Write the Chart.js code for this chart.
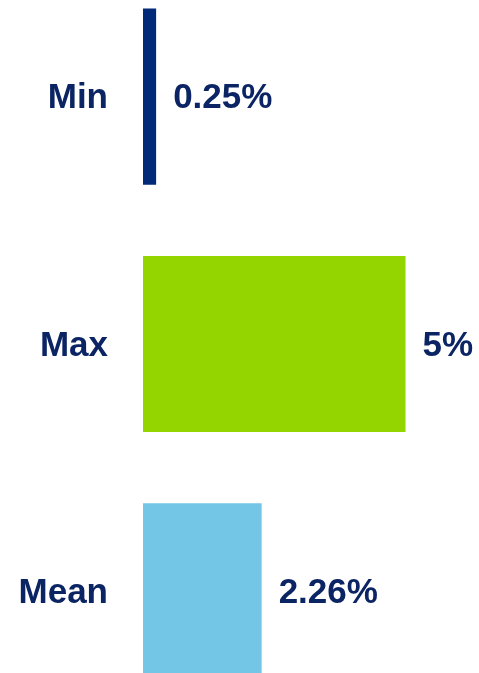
<!DOCTYPE html>
<html>
<head>
<meta charset="utf-8">
<script src="https://cdn.jsdelivr.net/npm/chart.js@4"></script>
<style>
html,body{margin:0;padding:0;background:#fff;overflow:hidden;width:479px;height:673px;}
#wrap{position:absolute;left:0;top:-27px;width:479px;height:742px;}
</style>
</head>
<body>
<div id="wrap"><canvas id="c"></canvas></div>
<script>
const categories = ["Min", "Max", "Mean"];
const values = [0.25, 5, 2.26];
const barColors = ["#012a78", "#94d500", "#73c6e6"];
const textColor = "#0b2463";
const fontFamily = "'Liberation Sans', Arial, sans-serif";

const valueLabels = {
  id: 'valueLabels',
  afterDatasetsDraw(chart) {
    const ctx = chart.ctx;
    const meta = chart.getDatasetMeta(0);
    ctx.save();
    ctx.font = "bold 35px " + fontFamily;
    ctx.fillStyle = textColor;
    ctx.textAlign = 'left';
    ctx.textBaseline = 'middle';
    meta.data.forEach((bar, i) => {
      ctx.fillText(values[i] + '%', bar.x + 17, bar.y + 2);
    });
    ctx.restore();
  }
};

new Chart(document.getElementById('c'), {
  type: 'bar',
  data: {
    labels: categories,
    datasets: [{
      data: values,
      backgroundColor: barColors,
      borderWidth: 0,
      categoryPercentage: 0.8,
      barPercentage: 0.89
    }]
  },
  options: {
    indexAxis: 'y',
    responsive: true,
    maintainAspectRatio: false,
    animation: false,
    layout: { padding: 0 },
    plugins: { legend: { display: false }, tooltip: { enabled: false } },
    scales: {
      x: {
        display: false,
        min: 0,
        max: 6.4
      },
      y: {
        grid: { display: false, drawTicks: false },
        border: { display: false },
        ticks: {
          color: textColor,
          padding: 35,
          labelOffset: 2,
          font: { family: fontFamily, size: 35, weight: 'bold' }
        },
        afterFit(scale) {
          scale.width = 143;
          scale.paddingTop = 0;
          scale.paddingBottom = 0;
        }
      }
    }
  },
  plugins: [valueLabels]
});
</script>
</body>
</html>
